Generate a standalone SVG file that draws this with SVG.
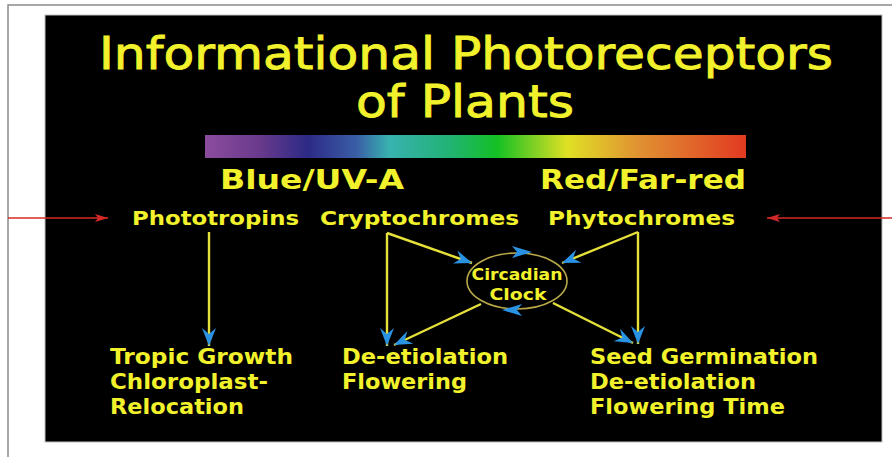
<svg xmlns="http://www.w3.org/2000/svg" width="892" height="457" viewBox="0 0 892 457">
<style>
.t{fill:#f2f22c;font-family:"DejaVu Sans","Liberation Sans",sans-serif;}
.ttl{font-size:45px;stroke:#f2f22c;stroke-width:0.9;}
.hd{font-size:27px;font-weight:bold;}
.nd{font-size:19px;font-weight:bold;}
.out{font-size:21px;font-weight:bold;}
.ck{font-size:15px;font-weight:bold;}
.y{stroke:#e6e03a;stroke-width:2.4;fill:none;}
.r{stroke:#d42828;stroke-width:1.6;fill:none;}
.ah{fill:#2a92e2;}
</style>
<defs>
<linearGradient id="spec" x1="0" x2="1" y1="0" y2="0">
<stop offset="0" stop-color="#8c4c9e"/>
<stop offset="0.1" stop-color="#6a3a8c"/>
<stop offset="0.19" stop-color="#2c2a86"/>
<stop offset="0.28" stop-color="#3a5ea6"/>
<stop offset="0.34" stop-color="#38b2b0"/>
<stop offset="0.45" stop-color="#22b276"/>
<stop offset="0.54" stop-color="#14c024"/>
<stop offset="0.67" stop-color="#e0e024"/>
<stop offset="0.8" stop-color="#e09232"/>
<stop offset="1" stop-color="#e23a22"/>
</linearGradient>
<marker id="ab" markerUnits="userSpaceOnUse" markerWidth="20" markerHeight="14" refX="18" refY="7" orient="auto">
<path d="M0,0 L18,7 L0,14 L6,7 Z" fill="#2a92e2"/>
</marker>
<marker id="ar" markerUnits="userSpaceOnUse" markerWidth="14" markerHeight="10" refX="13" refY="5" orient="auto">
<path d="M0,1 L13,5 L0,9 L3,5 Z" fill="#d42828"/>
</marker>
</defs>
<rect width="892" height="457" fill="#ffffff"/>
<path d="M8,457 V5 H892" fill="none" stroke="#8a8a8a" stroke-width="1.5"/>
<rect x="45" y="15" width="837" height="427" fill="#000000" stroke="#bdbdbd" stroke-width="1"/>
<g id="title">
<text class="t ttl" x="466" y="69" text-anchor="middle" textLength="734" lengthAdjust="spacingAndGlyphs">Informational Photoreceptors</text>
<text class="t ttl" x="465" y="117" text-anchor="middle" textLength="218" lengthAdjust="spacingAndGlyphs">of Plants</text>
</g>
<g id="spectrum">
<rect x="205" y="135" width="541" height="23" fill="url(#spec)"/>
</g>
<g id="bands">
<text class="t hd" x="220" y="189" textLength="184" lengthAdjust="spacingAndGlyphs">Blue/UV-A</text>
<text class="t hd" x="540" y="189" textLength="206" lengthAdjust="spacingAndGlyphs">Red/Far-red</text>
</g>
<g id="phototropins"><text class="t nd" x="132" y="225" textLength="167" lengthAdjust="spacingAndGlyphs">Phototropins</text></g>
<g id="cryptochromes"><text class="t nd" x="320" y="225" textLength="199" lengthAdjust="spacingAndGlyphs">Cryptochromes</text></g>
<g id="phytochromes"><text class="t nd" x="548" y="225" textLength="187" lengthAdjust="spacingAndGlyphs">Phytochromes</text></g>
<g id="clock">
<ellipse cx="517" cy="281" rx="50" ry="28" fill="none" stroke="#b8a84a" stroke-width="1.6"/>
<text class="t ck" x="517" y="280" text-anchor="middle" textLength="91" lengthAdjust="spacingAndGlyphs">Circadian</text>
<text class="t ck" x="518" y="300" text-anchor="middle" textLength="57" lengthAdjust="spacingAndGlyphs">Clock</text>
</g>
<g id="out-tropic">
<text class="t out" x="110" y="364" textLength="183" lengthAdjust="spacingAndGlyphs">Tropic Growth</text>
<text class="t out" x="110" y="389" textLength="158" lengthAdjust="spacingAndGlyphs">Chloroplast-</text>
<text class="t out" x="110" y="414" textLength="134" lengthAdjust="spacingAndGlyphs">Relocation</text>
</g>
<g id="out-deetiolation">
<text class="t out" x="342" y="364" textLength="166" lengthAdjust="spacingAndGlyphs">De-etiolation</text>
<text class="t out" x="342" y="389" textLength="125" lengthAdjust="spacingAndGlyphs">Flowering</text>
</g>
<g id="out-seed">
<text class="t out" x="590" y="364" textLength="228" lengthAdjust="spacingAndGlyphs">Seed Germination</text>
<text class="t out" x="590" y="389" textLength="166" lengthAdjust="spacingAndGlyphs">De-etiolation</text>
<text class="t out" x="590" y="414" textLength="195" lengthAdjust="spacingAndGlyphs">Flowering Time</text>
</g>
<g id="connectors">
<line class="r" x1="8" y1="218" x2="108" y2="218" marker-end="url(#ar)"/>
<line class="r" x1="892" y1="218" x2="767" y2="218" marker-end="url(#ar)"/>
<line class="y" x1="209" y1="232" x2="209" y2="346" marker-end="url(#ab)"/>
<line class="y" x1="387" y1="233" x2="387" y2="346" marker-end="url(#ab)"/>
<line class="y" x1="387" y1="233" x2="472" y2="263" marker-end="url(#ab)"/>
<line class="y" x1="638" y1="232" x2="638" y2="344" marker-end="url(#ab)"/>
<line class="y" x1="638" y1="232" x2="562" y2="263" marker-end="url(#ab)"/>
<line class="y" x1="481" y1="304" x2="394" y2="345" marker-end="url(#ab)"/>
<line class="y" x1="553" y1="303" x2="633" y2="343" marker-end="url(#ab)"/>
<path class="ah" d="M512,246 L532,252 L512,258 L517,252 Z"/>
<path class="ah" d="M522,304 L502,310 L522,316 L517,310 Z"/>
</g>
</svg>
